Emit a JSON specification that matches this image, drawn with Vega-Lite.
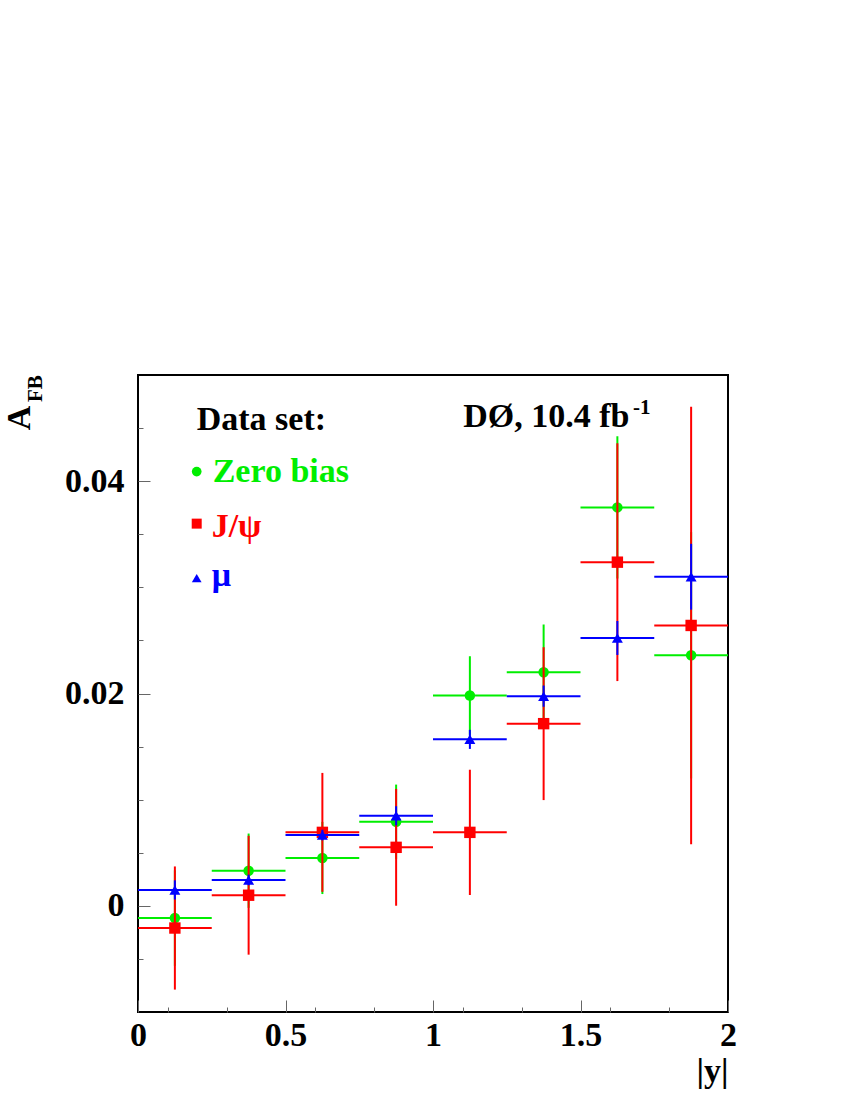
{
  "$schema": "https://vega.github.io/schema/vega-lite/v6.json",
  "width": 590,
  "height": 637,
  "autosize": "none",
  "padding": {"left": 138, "top": 375, "right": 122, "bottom": 88},
  "background": "white",
  "config": {"view": {"stroke": "black", "strokeWidth": 2}, "font": "Liberation Serif", "axis": {"labelOverlap": false}},
  "data": {"values": [
    {"set": "Zero bias", "x": 0.125, "xlo": 0.0, "xhi": 0.25, "v": -0.00115, "lo": -0.00565, "hi": 0.00335},
    {"set": "Zero bias", "x": 0.375, "xlo": 0.25, "xhi": 0.5, "v": 0.00331, "lo": -0.00019, "hi": 0.00681},
    {"set": "Zero bias", "x": 0.625, "xlo": 0.5, "xhi": 0.75, "v": 0.00451, "lo": 0.00111, "hi": 0.00791},
    {"set": "Zero bias", "x": 0.875, "xlo": 0.75, "xhi": 1.0, "v": 0.00792, "lo": 0.00442, "hi": 0.01142},
    {"set": "Zero bias", "x": 1.125, "xlo": 1.0, "xhi": 1.25, "v": 0.01981, "lo": 0.01611, "hi": 0.02351},
    {"set": "Zero bias", "x": 1.375, "xlo": 1.25, "xhi": 1.5, "v": 0.0220, "lo": 0.0175, "hi": 0.0265},
    {"set": "Zero bias", "x": 1.625, "xlo": 1.5, "xhi": 1.75, "v": 0.03753, "lo": 0.03083, "hi": 0.04423},
    {"set": "Zero bias", "x": 1.875, "xlo": 1.75, "xhi": 2.0, "v": 0.0236, "lo": 0.0120, "hi": 0.0352},
    {"set": "J/psi", "x": 0.125, "xlo": 0.0, "xhi": 0.25, "v": -0.00209, "lo": -0.00789, "hi": 0.00371},
    {"set": "J/psi", "x": 0.375, "xlo": 0.25, "xhi": 0.5, "v": 0.0010, "lo": -0.0046, "hi": 0.0066},
    {"set": "J/psi", "x": 0.625, "xlo": 0.5, "xhi": 0.75, "v": 0.00692, "lo": 0.00132, "hi": 0.01252},
    {"set": "J/psi", "x": 0.875, "xlo": 0.75, "xhi": 1.0, "v": 0.00551, "lo": 0.00001, "hi": 0.01101},
    {"set": "J/psi", "x": 1.125, "xlo": 1.0, "xhi": 1.25, "v": 0.00692, "lo": 0.00102, "hi": 0.01282},
    {"set": "J/psi", "x": 1.375, "xlo": 1.25, "xhi": 1.5, "v": 0.01716, "lo": 0.00996, "hi": 0.02436},
    {"set": "J/psi", "x": 1.625, "xlo": 1.5, "xhi": 1.75, "v": 0.03237, "lo": 0.02117, "hi": 0.04357},
    {"set": "J/psi", "x": 1.875, "xlo": 1.75, "xhi": 2.0, "v": 0.02641, "lo": 0.00581, "hi": 0.04701},
    {"set": "mu", "x": 0.125, "xlo": 0.0, "xhi": 0.25, "v": 0.0015, "lo": 0.0006, "hi": 0.0024},
    {"set": "mu", "x": 0.375, "xlo": 0.25, "xhi": 0.5, "v": 0.00244, "lo": 0.00194, "hi": 0.00294},
    {"set": "mu", "x": 0.625, "xlo": 0.5, "xhi": 0.75, "v": 0.00667, "lo": 0.00617, "hi": 0.00717},
    {"set": "mu", "x": 0.875, "xlo": 0.75, "xhi": 1.0, "v": 0.00848, "lo": 0.00758, "hi": 0.00938},
    {"set": "mu", "x": 1.125, "xlo": 1.0, "xhi": 1.25, "v": 0.01568, "lo": 0.01478, "hi": 0.01658},
    {"set": "mu", "x": 1.375, "xlo": 1.25, "xhi": 1.5, "v": 0.01975, "lo": 0.01875, "hi": 0.02075},
    {"set": "mu", "x": 1.625, "xlo": 1.5, "xhi": 1.75, "v": 0.02523, "lo": 0.02363, "hi": 0.02683},
    {"set": "mu", "x": 1.875, "xlo": 1.75, "xhi": 2.0, "v": 0.0310, "lo": 0.0279, "hi": 0.0341}
  ]},
  "resolve": {"axis": {"x": "independent", "y": "independent"}},
  "layer": [
    {
      "layer": [
        {
          "transform": [{"filter": "datum.set === 'Zero bias'"}],
          "layer": [
            {"mark": {"type": "rule", "color": "#00ee00", "strokeWidth": 2},
             "encoding": {
               "x": {"field": "xlo", "type": "quantitative",
                     "scale": {"domain": [0, 2], "nice": false, "zero": false},
                     "axis": {
                       "orient": "bottom",
                       "title": "|y|", "titleFont": "Liberation Serif", "titleFontSize": 34, "titleFontWeight": "bold",
                       "titleColor": "black", "titleAnchor": "end", "titleAlign": "right", "titleBaseline": "top", "titlePadding": 2,
                       "values": [0, 0.5, 1, 1.5, 2],
                       "domain": false, "grid": false,
                       "tickSize": -12, "tickColor": "#666", "tickWidth": 1,
                       "labelExpr": "format(datum.value,'~g')",
                       "labelFont": "Liberation Serif", "labelFontSize": 34, "labelFontWeight": "bold", "labelColor": "black",
                       "labelPadding": 18, "labelOverlap": false, "labelFlush": false, "labelBound": false
                     }},
               "x2": {"field": "xhi"},
               "y": {"field": "v", "type": "quantitative",
                     "scale": {"domain": [-0.01, 0.05], "nice": false, "zero": false},
                     "axis": {
                       "orient": "left",
                       "title": null,
                       "values": [0, 0.02, 0.04],
                       "domain": false, "grid": false,
                       "tickSize": -12, "tickColor": "#666", "tickWidth": 1,
                       "labelExpr": "format(datum.value,'~g')",
                       "labelFont": "Liberation Serif", "labelFontSize": 34, "labelFontWeight": "bold", "labelColor": "black",
                       "labelPadding": 26, "labelOverlap": false, "labelFlush": false, "labelBound": false
                     }}
             }},
            {"mark": {"type": "rule", "color": "#00ee00", "strokeWidth": 2},
             "encoding": {"x": {"field": "x", "type": "quantitative"}, "y": {"field": "lo", "type": "quantitative"}, "y2": {"field": "hi"}}},
            {"mark": {"type": "point", "shape": "circle", "filled": true, "color": "#00ee00", "size": 110, "opacity": 1},
             "encoding": {"x": {"field": "x", "type": "quantitative"}, "y": {"field": "v", "type": "quantitative"}}}
          ]
        },
        {
          "transform": [{"filter": "datum.set === 'J/psi'"}],
          "layer": [
            {"mark": {"type": "rule", "color": "#ff0000", "strokeWidth": 2},
             "encoding": {"x": {"field": "xlo", "type": "quantitative"}, "x2": {"field": "xhi"}, "y": {"field": "v", "type": "quantitative"}}},
            {"mark": {"type": "rule", "color": "#ff0000", "strokeWidth": 2},
             "encoding": {"x": {"field": "x", "type": "quantitative"}, "y": {"field": "lo", "type": "quantitative"}, "y2": {"field": "hi"}}},
            {"mark": {"type": "point", "shape": "square", "filled": true, "color": "#ff0000", "size": 130, "opacity": 1},
             "encoding": {"x": {"field": "x", "type": "quantitative"}, "y": {"field": "v", "type": "quantitative"}}}
          ]
        },
        {"data": {"values": [{}]},
         "mark": {"type": "text", "text": "Data set:", "font": "Liberation Serif", "fontSize": 34, "fontWeight": "bold", "align": "left", "baseline": "alphabetic", "color": "black"},
         "encoding": {"x": {"datum": 0.199, "type": "quantitative"}, "y": {"datum": 0.0448, "type": "quantitative"}}},
        {"data": {"values": [{}]},
         "mark": {"type": "point", "shape": "circle", "filled": true, "color": "#00ee00", "size": 95, "opacity": 1},
         "encoding": {"x": {"datum": 0.199, "type": "quantitative"}, "y": {"datum": 0.0409, "type": "quantitative"}}},
        {"data": {"values": [{}]},
         "mark": {"type": "text", "text": "Zero bias", "font": "Liberation Serif", "fontSize": 34, "fontWeight": "bold", "align": "left", "baseline": "alphabetic", "color": "#00ee00"},
         "encoding": {"x": {"datum": 0.253, "type": "quantitative"}, "y": {"datum": 0.03994, "type": "quantitative"}}},
        {"data": {"values": [{}]},
         "mark": {"type": "point", "shape": "square", "filled": true, "color": "#ff0000", "size": 100, "opacity": 1},
         "encoding": {"x": {"datum": 0.199, "type": "quantitative"}, "y": {"datum": 0.0360, "type": "quantitative"}}},
        {"data": {"values": [{}]},
         "mark": {"type": "text", "text": "J/ψ", "font": "Liberation Serif", "fontSize": 34, "fontWeight": "bold", "align": "left", "baseline": "alphabetic", "color": "#ff0000"},
         "encoding": {"x": {"datum": 0.2497, "type": "quantitative"}, "y": {"datum": 0.03477, "type": "quantitative"}}},
        {"data": {"values": [{}]},
         "mark": {"type": "point", "shape": "triangle-up", "filled": true, "color": "#0000ff", "size": 95, "opacity": 1},
         "encoding": {"x": {"datum": 0.199, "type": "quantitative"}, "y": {"datum": 0.03087, "type": "quantitative"}}},
        {"data": {"values": [{}]},
         "mark": {"type": "text", "text": "μ", "font": "Liberation Serif", "fontSize": 34, "fontWeight": "bold", "align": "left", "baseline": "alphabetic", "color": "#0000ff"},
         "encoding": {"x": {"datum": 0.2497, "type": "quantitative"}, "y": {"datum": 0.03008, "type": "quantitative"}}},
        {"data": {"values": [{}]},
         "mark": {"type": "text", "text": "DØ, 10.4 fb", "font": "Liberation Serif", "fontSize": 34, "fontWeight": "bold", "align": "left", "baseline": "alphabetic", "color": "black"},
         "encoding": {"x": {"datum": 1.1027, "type": "quantitative"}, "y": {"datum": 0.0451, "type": "quantitative"}}},
        {"data": {"values": [{}]},
         "mark": {"type": "text", "text": "-1", "font": "Liberation Serif", "fontSize": 21, "fontWeight": "bold", "align": "left", "baseline": "alphabetic", "color": "black"},
         "encoding": {"x": {"datum": 1.678, "type": "quantitative"}, "y": {"datum": 0.04636, "type": "quantitative"}}},
        {"data": {"values": [{}]},
         "mark": {"type": "text", "text": "A", "font": "Liberation Serif", "fontSize": 34, "fontWeight": "bold", "align": "left", "baseline": "alphabetic", "angle": 270, "color": "black"},
         "encoding": {"x": {"datum": -0.3661, "type": "quantitative"}, "y": {"datum": 0.04479, "type": "quantitative"}}},
        {"data": {"values": [{}]},
         "mark": {"type": "text", "text": "FB", "font": "Liberation Serif", "fontSize": 21, "fontWeight": "bold", "align": "left", "baseline": "alphabetic", "angle": 270, "color": "black"},
         "encoding": {"x": {"datum": -0.3271, "type": "quantitative"}, "y": {"datum": 0.04745, "type": "quantitative"}}}
      ]
    },
    {
      "transform": [{"filter": "datum.set === 'mu'"}],
      "layer": [
        {"mark": {"type": "rule", "color": "#0000ff", "strokeWidth": 2},
         "encoding": {
           "x": {"field": "xlo", "type": "quantitative",
                 "axis": {"orient": "bottom", "title": null, "values": [0.1, 0.2, 0.3, 0.4, 0.6, 0.7, 0.8, 0.9, 1.1, 1.2, 1.3, 1.4, 1.6, 1.7, 1.8, 1.9],
                          "domain": false, "grid": false, "labels": false, "tickSize": -5, "tickColor": "#666", "tickWidth": 1}},
           "x2": {"field": "xhi"},
           "y": {"field": "v", "type": "quantitative",
                 "axis": {"orient": "left", "title": null, "values": [-0.005, 0.005, 0.01, 0.015, 0.025, 0.03, 0.035, 0.045],
                          "domain": false, "grid": false, "labels": false, "tickSize": -5, "tickColor": "#666", "tickWidth": 1}}
         }},
        {"mark": {"type": "rule", "color": "#0000ff", "strokeWidth": 2},
         "encoding": {"x": {"field": "x", "type": "quantitative"}, "y": {"field": "lo", "type": "quantitative"}, "y2": {"field": "hi"}}},
        {"mark": {"type": "point", "shape": "triangle-up", "filled": true, "color": "#0000ff", "size": 120, "opacity": 1},
         "encoding": {"x": {"field": "x", "type": "quantitative"}, "y": {"field": "v", "type": "quantitative"}}}
      ]
    }
  ]
}
